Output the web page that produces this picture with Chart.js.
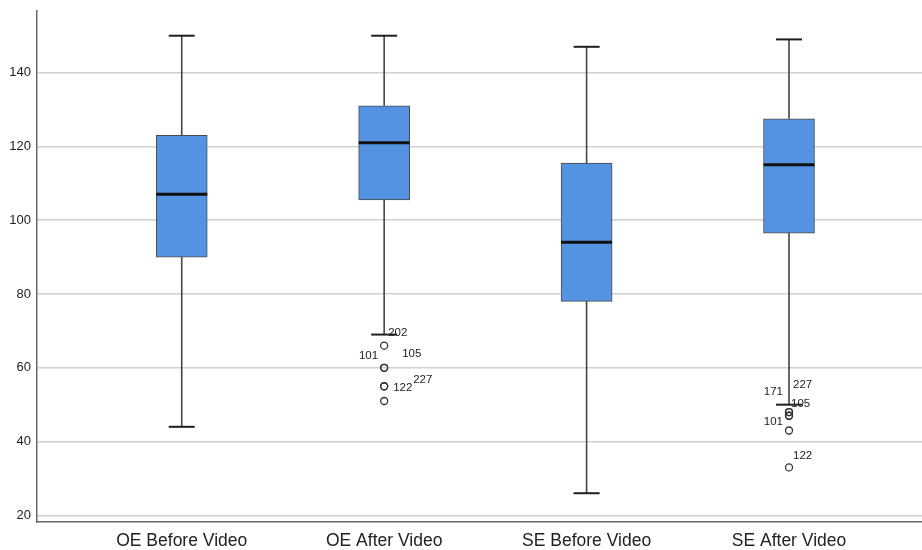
<!DOCTYPE html>
<html>
<head>
<meta charset="utf-8">
<script src="https://cdn.jsdelivr.net/npm/chart.js@4.4.1/dist/chart.umd.min.js"></script>
<style>
  html, body { margin: 0; padding: 0; background: #ffffff; }
  #wrap { width: 922px; height: 550px; }
</style>
</head>
<body>
<div id="wrap"><canvas id="c" width="922" height="550"></canvas></div>
<script>
// Box plot summaries per variable
const categories   = ['OE Before Video', 'OE After Video', 'SE Before Video', 'SE After Video'];
const whiskerLow   = [44, 69, 26, 50];
const q1           = [90, 105.5, 78, 96.5];
const medians      = [107, 121, 94, 115];
const q3           = [123, 131, 115.5, 127.5];
const whiskerHigh  = [150, 150, 147, 149];

// Outlying cases: group index, value, case number ('' = no label)
const outlierGroup = [1, 1, 1, 1, 1, 1, 3, 3, 3, 3, 3, 3];
const outlierValue = [66, 60, 60, 55, 55, 51, 48, 48, 47, 47, 43, 33];
const outlierCase  = ['202', '101', '105', '122', '227', '', '171', '227', '105', '101', '', '122'];

const yTicks = [20, 40, 60, 80, 100, 120, 140];

// Label placement relative to its point: [dx, dy, align]
const labelOffsets = [
  [4, -13, 'left'], [-6, -12, 'right'], [18, -14, 'left'], [9, 2, 'left'], [29, -6, 'left'], [0, 0, 'left'],
  [-6, -20, 'right'], [4, -27, 'left'], [2, -12, 'left'], [-6, 6, 'right'], [0, 0, 'left'], [4, -12, 'left']
];

const BOX_W = 51;
const CAP_W = 26;

const boxParts = {
  id: 'boxParts',
  beforeDatasetsDraw(chart) {
    const { ctx, scales: { x, y } } = chart;
    ctx.save();
    categories.forEach((c, i) => {
      const cx = x.getPixelForValue(i + 1);
      ctx.strokeStyle = '#444444';
      ctx.lineWidth = 1.6;
      ctx.beginPath();
      ctx.moveTo(cx, y.getPixelForValue(whiskerHigh[i]));
      ctx.lineTo(cx, y.getPixelForValue(q3[i]));
      ctx.moveTo(cx, y.getPixelForValue(q1[i]));
      ctx.lineTo(cx, y.getPixelForValue(whiskerLow[i]));
      ctx.stroke();
      ctx.strokeStyle = '#1e1e1e';
      ctx.lineWidth = 2;
      [whiskerHigh[i], whiskerLow[i]].forEach(v => {
        const py = y.getPixelForValue(v);
        ctx.beginPath();
        ctx.moveTo(cx - CAP_W / 2, py);
        ctx.lineTo(cx + CAP_W / 2, py);
        ctx.stroke();
      });
    });
    ctx.restore();
  },
  afterDatasetsDraw(chart) {
    const { ctx, scales: { x, y } } = chart;
    ctx.save();
    ctx.strokeStyle = '#111111';
    ctx.lineWidth = 3;
    categories.forEach((c, i) => {
      const cx = x.getPixelForValue(i + 1);
      const py = y.getPixelForValue(medians[i]);
      ctx.beginPath();
      ctx.moveTo(cx - BOX_W / 2, py);
      ctx.lineTo(cx + BOX_W / 2, py);
      ctx.stroke();
    });
    ctx.fillStyle = '#222222';
    ctx.font = '11.5px "Liberation Sans", Arial, sans-serif';
    ctx.textBaseline = 'middle';
    outlierCase.forEach((t, i) => {
      if (!t) return;
      const px = x.getPixelForValue(outlierGroup[i] + 1);
      const py = y.getPixelForValue(outlierValue[i]);
      const [dx, dy, al] = labelOffsets[i];
      ctx.textAlign = al;
      ctx.fillText(t, px + dx, py + dy);
    });
    ctx.restore();
  }
};

new Chart(document.getElementById('c'), {
  data: {
    datasets: [
      {
        type: 'bar',
        data: categories.map((c, i) => ({ x: i + 1, y: [q1[i], q3[i]] })),
        backgroundColor: '#5393e2',
        borderColor: '#4a4a4a',
        borderWidth: 1,
        borderSkipped: false,
        barThickness: BOX_W,
        grouped: false,
        order: 2
      },
      {
        type: 'line',
        showLine: false,
        data: outlierValue.map((v, i) => ({ x: outlierGroup[i] + 1, y: v })),
        pointRadius: 3.5,
        pointBorderWidth: 1.3,
        pointBorderColor: '#333333',
        pointBackgroundColor: 'rgba(255,255,255,0)',
        order: 1
      }
    ]
  },
  options: {
    responsive: false,
    animation: false,
    layout: { autoPadding: false, padding: { top: 11, right: 0, left: 0, bottom: 0 } },
    plugins: { legend: { display: false }, tooltip: { enabled: false } },
    scales: {
      x: {
        type: 'linear',
        offset: false,
        min: 0.285,
        max: 4.657,
        afterDataLimits: s => { s.min = 0.285; s.max = 4.657; },
        afterBuildTicks: s => { s.ticks = categories.map((c, i) => ({ value: i + 1 })); },
        afterFit: s => { s.height = 28; s.paddingRight = 0; s.paddingLeft = 0; },
        grid: { display: false, drawTicks: false },
        border: { display: true, color: '#666666', width: 1.5 },
        ticks: {
          autoSkip: false,
          maxRotation: 0,
          padding: 9,
          color: '#222222',
          font: { family: '"Liberation Sans", Arial, sans-serif', size: 17.5 },
          callback: v => categories[v - 1]
        }
      },
      y: {
        type: 'linear',
        min: 18.2,
        max: 156.7,
        afterBuildTicks: s => { s.ticks = yTicks.map(v => ({ value: v })); },
        afterFit: s => { s.width = 37; s.paddingTop = 0; s.paddingBottom = 0; },
        grid: { color: '#d0d0d0', lineWidth: 1.6, drawTicks: false },
        border: { display: true, color: '#666666', width: 1.5 },
        ticks: {
          padding: 6,
          color: '#222222',
          font: { family: '"Liberation Sans", Arial, sans-serif', size: 13 }
        }
      }
    }
  },
  plugins: [boxParts]
});
</script>
</body>
</html>
